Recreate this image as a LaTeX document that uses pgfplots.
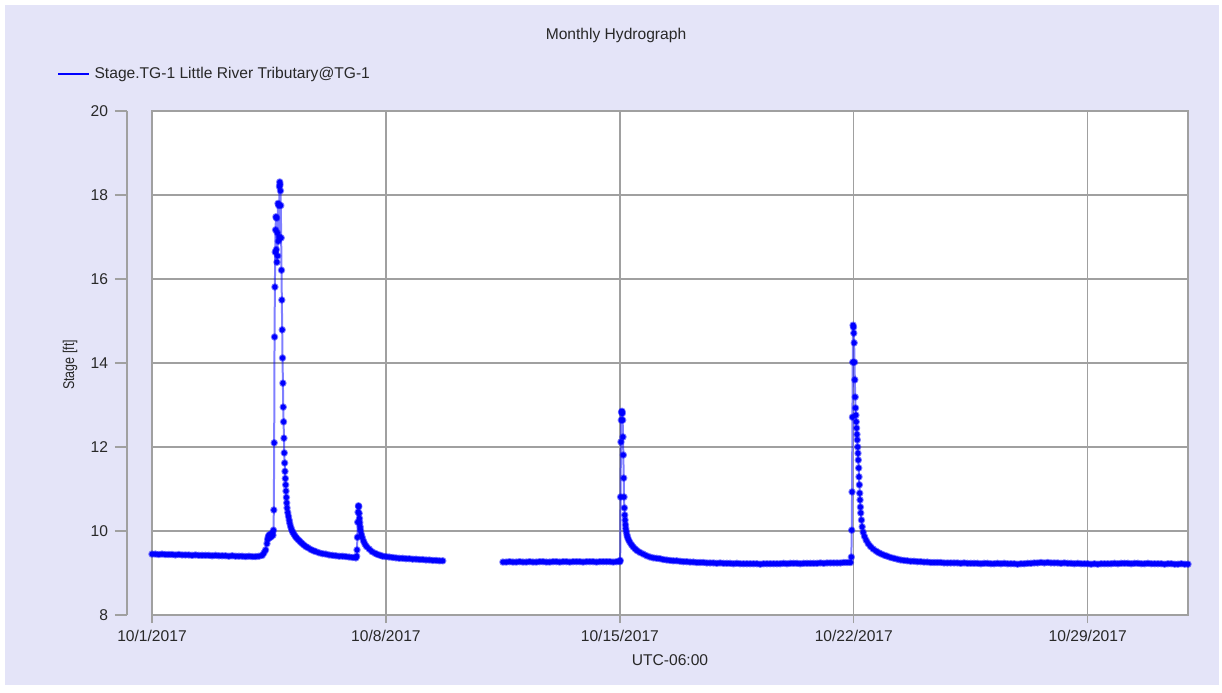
\documentclass[border=0pt]{standalone}
\usepackage{fontspec}
\setmainfont{Liberation Sans}
\usepackage{graphicx}
\usepackage{pgfplots}
\pgfplotsset{compat=1.18}
\definecolor{bglav}{RGB}{228,228,248}
\definecolor{gridgray}{RGB}{160,160,160}
\definecolor{txt}{RGB}{40,40,40}
\newcommand{\lblfont}{\fontsize{7.8}{9}\selectfont}
\begin{document}
\begin{tikzpicture}[x=1pt,y=1pt]
\fill[white] (0,0) rectangle (611,346);
\fill[bglav] (2.5,3.5) rectangle (609.5,343.5);
\begin{axis}[
  at={(76pt,38.5pt)}, anchor=south west,
  scale only axis, width=518pt, height=252pt,
  axis background/.style={fill=white},
  xmin=0, xmax=31, ymin=8, ymax=20,
  xtick={0,7,14,21,28},
  xticklabels={10/1/2017,10/8/2017,10/15/2017,10/22/2017,10/29/2017},
  ytick={8,10,...,20}, yticklabels={},
  grid=major, major grid style={gridgray, line width=0.65pt},
  axis line style={gridgray, line width=0.65pt},
  xtick pos=left, ytick style={draw=none},
  xtick style={gridgray, line width=0.65pt},
  tick align=outside, major tick length=4pt,
  xticklabel style={font=\lblfont, text=txt},
  /pgf/number format/assume math mode=true,
  unbounded coords=jump,
  legend style={at={(-0.0917,1.0734)}, anchor=west, draw=none, fill=none, inner sep=0pt, font=\lblfont, text=txt},
  legend cell align=left,
  legend image code/.code={\draw[blue, draw opacity=1, line width=1.1pt] (0pt,0pt) -- (15.5pt,0pt);},
]
\addplot[color=blue, line width=1pt, line join=round, draw opacity=0.5, mark=*, mark size=1.35pt, mark options={solid, draw=none, fill=blue, fill opacity=1}] coordinates {
(0.0,9.45) (0.1,9.45) (0.2,9.44) (0.3,9.45) (0.4,9.44) (0.5,9.44) (0.6,9.44) (0.7,9.43) (0.8,9.44) (0.9,9.43)
(1.0,9.43) (1.1,9.43) (1.2,9.42) (1.3,9.43) (1.4,9.42) (1.5,9.42) (1.6,9.42) (1.7,9.42) (1.8,9.41) (1.9,9.42)
(2.0,9.41) (2.1,9.41) (2.2,9.41) (2.3,9.40) (2.4,9.41) (2.5,9.40) (2.6,9.40) (2.7,9.40) (2.8,9.39) (2.9,9.40)
(3.0,9.39) (3.1,9.39) (3.2,9.40) (3.3,9.42)
(3.35,9.48) (3.40,9.55) (3.44,9.70) (3.46,9.80) (3.48,9.86) (3.50,9.90) (3.52,9.84) (3.54,9.92) (3.56,9.86)
(3.58,9.90) (3.60,9.95) (3.62,9.90) (3.635,10.02)
(3.646,10.50) (3.656,12.10) (3.667,14.62) (3.677,15.81) (3.688,16.64) (3.698,17.17) (3.708,17.48) (3.719,16.70)
(3.729,17.45) (3.740,16.40) (3.750,17.10) (3.760,16.55) (3.771,17.80) (3.781,16.90) (3.792,17.75) (3.802,17.00)
(3.813,18.20) (3.823,18.31) (3.833,18.25) (3.844,18.10) (3.854,17.75) (3.865,16.98) (3.875,16.21) (3.885,15.50)
(3.896,14.79) (3.906,14.12) (3.917,13.52) (3.927,12.95) (3.938,12.60) (3.948,12.21) (3.958,11.86) (3.969,11.62)
(3.979,11.42) (3.990,11.25) (4.000,11.10) (4.010,10.95) (4.021,10.80) (4.031,10.67) (4.042,10.55) (4.063,10.44)
(4.083,10.35) (4.104,10.26) (4.125,10.18) (4.15,10.10) (4.18,10.03) (4.21,9.97) (4.25,9.92) (4.29,9.87)
(4.33,9.83) (4.38,9.79) (4.43,9.75) (4.48,9.71) (4.54,9.67) (4.60,9.63) (4.67,9.60) (4.75,9.56) (4.83,9.53)
(4.9,9.51) (5.0,9.48) (5.1,9.46) (5.2,9.45) (5.3,9.43) (5.4,9.42) (5.5,9.41) (5.6,9.40) (5.7,9.40) (5.8,9.39)
(5.9,9.38) (6.0,9.37) (6.1,9.36)
(6.125,9.40) (6.135,9.55) (6.146,9.85) (6.156,10.21) (6.167,10.45) (6.177,10.60) (6.188,10.58) (6.198,10.42)
(6.208,10.30) (6.219,10.20) (6.229,10.10) (6.24,10.02) (6.26,9.93) (6.29,9.85) (6.33,9.76) (6.37,9.69)
(6.42,9.63) (6.5,9.57) (6.58,9.51) (6.67,9.47) (6.75,9.44) (6.83,9.42) (6.9,9.40) (7.0,9.39) (7.1,9.38)
(7.2,9.37) (7.3,9.36) (7.4,9.35) (7.5,9.35) (7.6,9.34) (7.7,9.34) (7.8,9.33) (7.9,9.33) (8.0,9.32) (8.1,9.32)
(8.2,9.31) (8.3,9.31) (8.4,9.30) (8.5,9.30) (8.6,9.29) (8.7,9.29)
(9.6,nan)
(10.5,9.26) (10.6,9.26) (10.7,9.27) (10.8,9.26) (10.9,9.26) (11.0,9.27) (11.1,9.26) (11.2,9.26) (11.3,9.27)
(11.4,9.26) (11.5,9.26) (11.6,9.27) (11.7,9.27) (11.8,9.26) (11.9,9.26) (12.0,9.27) (12.1,9.27) (12.2,9.26)
(12.3,9.27) (12.4,9.27) (12.5,9.26) (12.6,9.27) (12.7,9.27) (12.8,9.27) (12.9,9.26) (13.0,9.27) (13.1,9.27)
(13.2,9.27) (13.3,9.26) (13.4,9.27) (13.5,9.27) (13.6,9.27) (13.7,9.27) (13.8,9.26) (13.9,9.27) (14.0,9.27)
(14.010,9.30) (14.021,10.81) (14.031,12.12) (14.042,12.64) (14.052,12.83) (14.063,12.85) (14.073,12.80)
(14.083,12.64) (14.094,12.24) (14.104,11.81) (14.115,11.26) (14.125,10.81) (14.135,10.55) (14.146,10.38)
(14.156,10.26) (14.167,10.15) (14.177,10.06) (14.188,9.99) (14.21,9.91) (14.23,9.85) (14.26,9.79) (14.30,9.73)
(14.35,9.67) (14.40,9.62) (14.46,9.57) (14.52,9.53) (14.6,9.49) (14.7,9.45) (14.8,9.41) (14.9,9.38) (15.0,9.36)
(15.1,9.35) (15.2,9.34) (15.3,9.32) (15.4,9.31) (15.5,9.30) (15.6,9.29) (15.7,9.29) (15.8,9.28) (15.9,9.27)
(16.0,9.27) (16.1,9.26) (16.2,9.26) (16.3,9.25) (16.4,9.25) (16.5,9.25) (16.6,9.24) (16.7,9.24) (16.8,9.24)
(16.9,9.23) (17.0,9.24) (17.1,9.23) (17.2,9.23) (17.3,9.23) (17.4,9.22) (17.5,9.23) (17.6,9.22) (17.7,9.22)
(17.8,9.22) (17.9,9.22) (18.0,9.22) (18.1,9.22) (18.2,9.21) (18.3,9.22) (18.4,9.22) (18.5,9.22) (18.6,9.22)
(18.7,9.22) (18.8,9.22) (18.9,9.23) (19.0,9.22) (19.1,9.23) (19.2,9.23) (19.3,9.23) (19.4,9.22) (19.5,9.23)
(19.6,9.23) (19.7,9.23) (19.8,9.23) (19.9,9.23) (20.0,9.24) (20.1,9.23) (20.2,9.24) (20.3,9.24) (20.4,9.24)
(20.5,9.24) (20.6,9.24) (20.7,9.25) (20.8,9.25) (20.9,9.25)
(20.927,9.38) (20.938,10.02) (20.948,10.93) (20.958,12.71) (20.969,14.02) (20.979,14.90) (20.990,14.85)
(21.000,14.71) (21.010,14.48) (21.021,14.02) (21.031,13.60) (21.042,13.19) (21.052,12.93) (21.063,12.76)
(21.073,12.60) (21.083,12.45) (21.094,12.30) (21.104,12.17) (21.115,12.00) (21.125,11.85) (21.135,11.69)
(21.146,11.50) (21.156,11.29) (21.167,11.10) (21.177,10.90) (21.188,10.74) (21.198,10.57) (21.208,10.43)
(21.229,10.26) (21.250,10.10) (21.28,9.97) (21.32,9.87) (21.37,9.78) (21.43,9.70) (21.5,9.63) (21.58,9.57)
(21.67,9.52) (21.75,9.48) (21.83,9.45) (21.92,9.42) (22.0,9.40) (22.1,9.37) (22.2,9.35) (22.3,9.33) (22.4,9.31)
(22.5,9.30) (22.6,9.29) (22.7,9.28) (22.8,9.28) (22.9,9.27) (23.0,9.27) (23.1,9.26) (23.2,9.26) (23.3,9.25)
(23.4,9.25) (23.5,9.25) (23.6,9.25) (23.7,9.24) (23.8,9.24) (23.9,9.24) (24.0,9.24)
(24.1,9.24) (24.2,9.23) (24.3,9.24) (24.4,9.23) (24.5,9.23) (24.6,9.23) (24.7,9.23) (24.8,9.22) (24.9,9.23)
(25.0,9.23) (25.1,9.22) (25.2,9.22) (25.3,9.23) (25.4,9.22) (25.5,9.23) (25.6,9.22) (25.7,9.22) (25.8,9.22)
(25.9,9.21) (26.0,9.22) (26.1,9.22) (26.2,9.23) (26.3,9.23) (26.4,9.24) (26.5,9.24) (26.6,9.25) (26.7,9.24)
(26.8,9.25) (26.9,9.24) (27.0,9.24) (27.1,9.24) (27.2,9.23) (27.3,9.24) (27.4,9.23) (27.5,9.23) (27.6,9.22)
(27.7,9.23) (27.8,9.22) (27.9,9.22) (28.0,9.22) (28.1,9.21) (28.2,9.22) (28.3,9.21) (28.4,9.22) (28.5,9.22)
(28.6,9.22) (28.7,9.22) (28.8,9.23) (28.9,9.22) (29.0,9.23) (29.1,9.23) (29.2,9.23) (29.3,9.22) (29.4,9.23)
(29.5,9.23) (29.6,9.22) (29.7,9.22) (29.8,9.23) (29.9,9.22) (30.0,9.22) (30.1,9.22) (30.2,9.22) (30.3,9.21)
(30.4,9.22) (30.5,9.22) (30.6,9.21) (30.7,9.21) (30.8,9.22) (30.9,9.21) (31.0,9.21)
};
\addlegendentry{Stage.TG-1 Little River Tributary@TG-1}
\end{axis}
\begin{axis}[
  at={(63.5pt,38.5pt)}, anchor=south west,
  scale only axis, width=10pt, height=252pt,
  xmin=0, xmax=1, ymin=8, ymax=20,
  hide x axis, axis y line*=left,
  y axis line style={gridgray, line width=0.65pt, -},
  ytick={8,10,...,20},
  ytick style={gridgray, line width=0.65pt},
  tick align=outside, major tick length=6pt,
  yticklabel style={font=\lblfont, text=txt},
  /pgf/number format/assume math mode=true,
]
\end{axis}
\node[text=txt, font=\lblfont] at (308,328.5) {Monthly Hydrograph};
\node[text=txt, font=\lblfont] at (335,16) {UTC-06:00};
\node[text=txt, font=\lblfont, rotate=90] at (35,163.5) {\scalebox{0.8}[1]{Stage [ft]}};
\end{tikzpicture}
\end{document}
